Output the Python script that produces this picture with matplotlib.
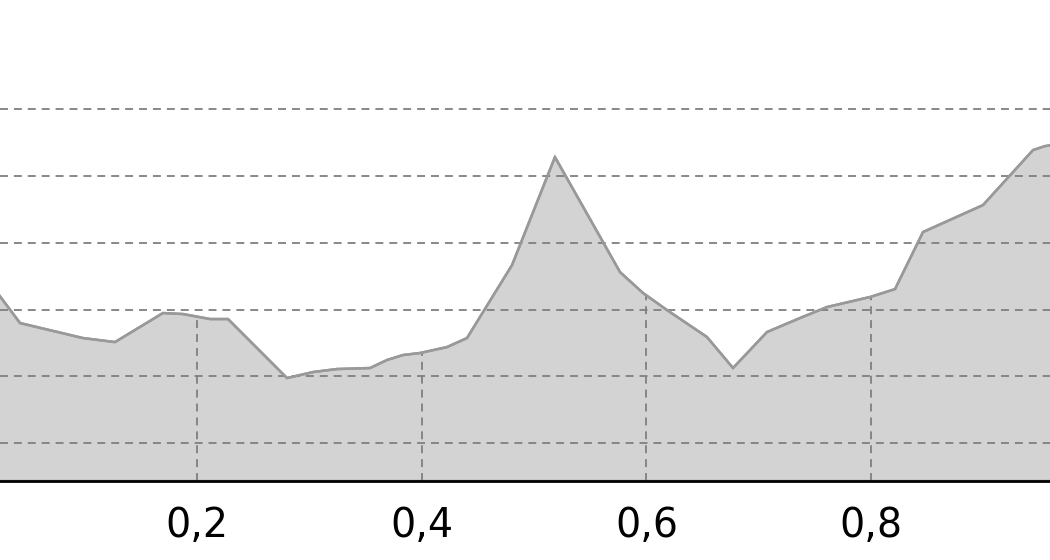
import matplotlib
matplotlib.use('Agg')
import matplotlib.pyplot as plt

# Data
x_values = [0.0158, 0.0425, 0.0985, 0.1270, 0.1697, 0.1875, 0.2116, 0.2276,
            0.2801, 0.3033, 0.3246, 0.3540, 0.3691, 0.3834, 0.3985, 0.4225,
            0.4403, 0.4804, 0.5186, 0.5765, 0.5970, 0.6183, 0.6539, 0.6771,
            0.7073, 0.7367, 0.7607, 0.7990, 0.8213, 0.8462, 0.8996, 0.9441,
            0.9548, 0.9680]
y_values = [33.97, 27.98, 25.73, 25.13, 29.48, 29.33, 28.58, 28.58,
            19.74, 20.64, 21.09, 21.24, 22.44, 23.19, 23.49, 24.38,
            25.73, 36.67, 52.85, 35.62, 32.48, 29.93, 25.89, 21.24,
            26.63, 28.73, 30.38, 31.88, 33.07, 41.62, 45.66, 53.90,
            54.50, 54.80]
x_ticks = [0.2, 0.4, 0.6, 0.8]
x_tick_labels = ['0,2', '0,4', '0,6', '0,8']
y_grid = [10, 20, 30, 40, 50, 60]

grid_color = '#7f7f7f'
dash = (0, (4.4, 3.3))

fig = plt.figure(figsize=(10.5, 5.6), dpi=100)
ax = fig.add_axes([0, 79 / 560, 1, (481 - 60) / 560])
ymin, ymax = 4.31, 67.4
ax.set_xlim(0.02465, 0.95923)
ax.set_ylim(ymin, ymax)

poly = ax.fill_between(x_values, y_values, ymin, facecolor='#d3d3d3',
                       edgecolor='#999999', linewidth=1.8, zorder=1)
ax.plot(x_values, y_values, color='#999999', lw=1.8, zorder=3,
        solid_joinstyle='miter')

vl = ax.vlines(x_ticks, ymin, ymax, colors=grid_color, linestyles=dash,
               linewidths=1.3, zorder=2)
vl.set_clip_path(poly.get_paths()[0], ax.transData)

ax.set_yticks(y_grid)
ax.set_axisbelow('line')
ax.yaxis.grid(True, color=grid_color, linestyle=dash, linewidth=1.3)
ax.xaxis.grid(False)
ax.tick_params(axis='y', left=False, labelleft=False, length=0)

ax.set_xticks(x_ticks, x_tick_labels)
ax.tick_params(axis='x', length=0, pad=18, labelsize=28.5, colors='black')

for s in ['left', 'right', 'top']:
    ax.spines[s].set_visible(False)
ax.spines['bottom'].set_color('black')
ax.spines['bottom'].set_linewidth(2.0)
ax.spines['bottom'].set_zorder(4)
ax.patch.set_visible(False)

fig.savefig('out.png', dpi=100, facecolor='white')
